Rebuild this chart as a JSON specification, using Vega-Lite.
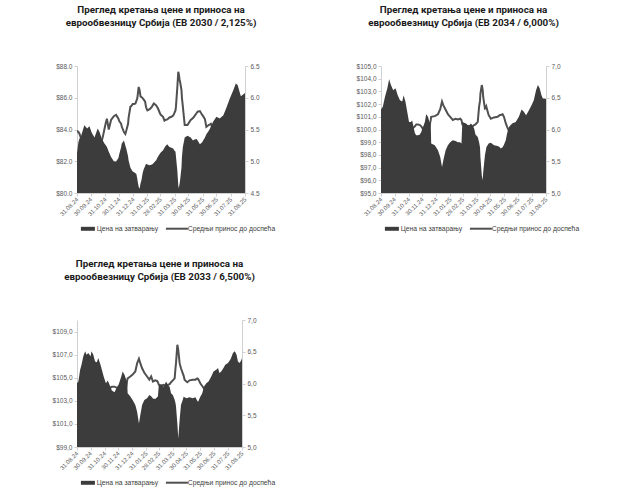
{
"$schema": "https://vega.github.io/schema/vega-lite/v6.json",
"padding": {"left": 52, "top": 5, "right": 5, "bottom": 0},
"background": "white",
"config": {
  "view": {"stroke": null},
  "font": "Liberation Sans",
  "axis": {"grid": false, "labelFontSize": 6.5, "labelColor": "#595959", "domainColor": "#d0d0d0", "tickColor": "#d0d0d0", "tickSize": 3, "labelPadding": 2, "title": null},
  "legend": {"labelFontSize": 6.8, "labelColor": "#404040", "title": null, "orient": "bottom", "direction": "horizontal", "offset": 8, "columnPadding": 2, "labelOffset": 13, "symbolType": "M-1,0H1", "symbolSize": 484},
  "title": {"font": "Roboto", "fontSize": 9.8, "fontWeight": "bold", "color": "#1a1a1a", "lineHeight": 13, "anchor": "middle", "offset": 35}
},
"datasets": {
"b2030": [
{"d":"2024-08-31","p":82.5,"y":5.48},{"d":"2024-09-03","p":83.2,"y":5.46},{"d":"2024-09-05","p":83.4,"y":5.44},{"d":"2024-09-09","p":83.6,"y":5.36},{"d":"2024-09-16","p":84.27,"y":5.22},{"d":"2024-09-22","p":84.06,"y":5.25},{"d":"2024-09-27","p":84.2,"y":5.22},{"d":"2024-10-02","p":83.8,"y":5.28},{"d":"2024-10-08","p":83.5,"y":5.3},{"d":"2024-10-15","p":84.06,"y":5.25},{"d":"2024-10-19","p":83.85,"y":5.27},{"d":"2024-10-24","p":83.4,"y":5.33},{"d":"2024-10-26","p":83.3,"y":5.38},{"d":"2024-10-30","p":83.1,"y":5.52},{"d":"2024-11-02","p":83.0,"y":5.62},{"d":"2024-11-04","p":82.9,"y":5.67},{"d":"2024-11-08","p":82.6,"y":5.5},{"d":"2024-11-13","p":82.27,"y":5.65},{"d":"2024-11-19","p":82.0,"y":5.71},{"d":"2024-11-24","p":81.98,"y":5.73},{"d":"2024-11-29","p":82.2,"y":5.67},{"d":"2024-12-01","p":82.48,"y":5.63},{"d":"2024-12-05","p":82.9,"y":5.59},{"d":"2024-12-06","p":83.1,"y":5.55},{"d":"2024-12-11","p":83.3,"y":5.46},{"d":"2024-12-14","p":83.0,"y":5.43},{"d":"2024-12-16","p":82.8,"y":5.48},{"d":"2024-12-20","p":82.3,"y":5.59},{"d":"2024-12-21","p":82.06,"y":5.68},{"d":"2024-12-25","p":81.6,"y":5.86},{"d":"2024-12-27","p":81.5,"y":5.87},{"d":"2024-12-30","p":81.35,"y":5.9},{"d":"2025-01-02","p":81.3,"y":5.9},{"d":"2025-01-05","p":81.25,"y":5.91},{"d":"2025-01-07","p":81.2,"y":5.95},{"d":"2025-01-09","p":80.9,"y":5.99},{"d":"2025-01-10","p":80.7,"y":6.05},{"d":"2025-01-12","p":80.4,"y":6.17},{"d":"2025-01-14","p":80.27,"y":6.12},{"d":"2025-01-16","p":80.6,"y":6.02},{"d":"2025-01-18","p":80.8,"y":6.01},{"d":"2025-01-21","p":81.3,"y":5.99},{"d":"2025-01-23","p":81.5,"y":5.97},{"d":"2025-01-26","p":81.7,"y":5.94},{"d":"2025-01-28","p":81.85,"y":5.85},{"d":"2025-01-31","p":81.8,"y":5.8},{"d":"2025-02-05","p":81.75,"y":5.82},{"d":"2025-02-10","p":81.8,"y":5.86},{"d":"2025-02-12","p":81.85,"y":5.89},{"d":"2025-02-14","p":81.9,"y":5.91},{"d":"2025-02-19","p":82.06,"y":5.88},{"d":"2025-02-23","p":82.3,"y":5.83},{"d":"2025-02-27","p":82.48,"y":5.76},{"d":"2025-03-01","p":82.55,"y":5.73},{"d":"2025-03-06","p":82.7,"y":5.7},{"d":"2025-03-09","p":82.85,"y":5.64},{"d":"2025-03-11","p":82.95,"y":5.65},{"d":"2025-03-15","p":83.07,"y":5.66},{"d":"2025-03-17","p":83.0,"y":5.67},{"d":"2025-03-20","p":82.9,"y":5.69},{"d":"2025-03-24","p":82.85,"y":5.7},{"d":"2025-03-28","p":82.8,"y":5.72},{"d":"2025-03-30","p":82.7,"y":5.75},{"d":"2025-04-02","p":82.6,"y":5.8},{"d":"2025-04-03","p":82.3,"y":5.86},{"d":"2025-04-06","p":81.4,"y":6.17},{"d":"2025-04-08","p":80.5,"y":6.41},{"d":"2025-04-09","p":80.3,"y":6.38},{"d":"2025-04-11","p":80.6,"y":6.28},{"d":"2025-04-12","p":80.8,"y":6.25},{"d":"2025-04-15","p":81.6,"y":6.12},{"d":"2025-04-16","p":82.27,"y":6.0},{"d":"2025-04-18","p":82.9,"y":5.86},{"d":"2025-04-22","p":83.5,"y":5.57},{"d":"2025-04-28","p":83.6,"y":5.57},{"d":"2025-05-05","p":83.5,"y":5.65},{"d":"2025-05-10","p":83.3,"y":5.68},{"d":"2025-05-12","p":83.35,"y":5.7},{"d":"2025-05-18","p":83.4,"y":5.76},{"d":"2025-05-20","p":83.3,"y":5.78},{"d":"2025-05-25","p":83.07,"y":5.79},{"d":"2025-05-30","p":83.2,"y":5.73},{"d":"2025-06-01","p":83.3,"y":5.71},{"d":"2025-06-05","p":83.5,"y":5.66},{"d":"2025-06-08","p":83.7,"y":5.54},{"d":"2025-06-13","p":83.9,"y":5.57},{"d":"2025-06-16","p":84.06,"y":5.58},{"d":"2025-06-18","p":84.2,"y":5.59},{"d":"2025-06-23","p":84.5,"y":5.5},{"d":"2025-06-30","p":84.8,"y":5.35},{"d":"2025-07-07","p":84.7,"y":5.3},{"d":"2025-07-15","p":84.9,"y":5.25},{"d":"2025-07-22","p":85.4,"y":5.15},{"d":"2025-07-29","p":85.96,"y":5.05},{"d":"2025-08-06","p":86.5,"y":4.95},{"d":"2025-08-11","p":86.9,"y":4.88},{"d":"2025-08-15","p":86.8,"y":4.9},{"d":"2025-08-19","p":86.4,"y":4.96},{"d":"2025-08-22","p":86.1,"y":5.0},{"d":"2025-08-27","p":86.2,"y":4.99},{"d":"2025-08-31","p":86.3,"y":4.97}
],
"b2034": [
{"d":"2024-08-31","p":101.58,"y":5.86},{"d":"2024-09-04","p":101.8,"y":5.83},{"d":"2024-09-09","p":102.6,"y":5.72},{"d":"2024-09-14","p":103.24,"y":5.63},{"d":"2024-09-18","p":103.95,"y":5.53},{"d":"2024-09-22","p":103.5,"y":5.6},{"d":"2024-09-27","p":103.1,"y":5.65},{"d":"2024-10-02","p":103.24,"y":5.63},{"d":"2024-10-07","p":102.7,"y":5.71},{"d":"2024-10-12","p":102.3,"y":5.76},{"d":"2024-10-17","p":102.2,"y":5.78},{"d":"2024-10-20","p":102.7,"y":5.71},{"d":"2024-10-24","p":102.2,"y":5.78},{"d":"2024-10-28","p":101.4,"y":5.89},{"d":"2024-11-01","p":100.6,"y":6.0},{"d":"2024-11-05","p":100.6,"y":6.0},{"d":"2024-11-08","p":100.7,"y":6.01},{"d":"2024-11-11","p":100.2,"y":6.03},{"d":"2024-11-14","p":99.7,"y":6.05},{"d":"2024-11-17","p":99.55,"y":6.08},{"d":"2024-11-21","p":99.55,"y":6.08},{"d":"2024-11-25","p":99.6,"y":6.07},{"d":"2024-11-28","p":99.8,"y":6.05},{"d":"2024-11-30","p":100.0,"y":6.03},{"d":"2024-12-02","p":100.2,"y":6.0},{"d":"2024-12-06","p":100.6,"y":5.98},{"d":"2024-12-09","p":101.2,"y":5.95},{"d":"2024-12-13","p":101.0,"y":6.0},{"d":"2024-12-16","p":100.6,"y":6.05},{"d":"2024-12-19","p":100.5,"y":6.15},{"d":"2024-12-20","p":98.9,"y":6.2},{"d":"2024-12-28","p":98.76,"y":6.21},{"d":"2025-01-04","p":98.37,"y":6.24},{"d":"2025-01-09","p":97.84,"y":6.32},{"d":"2025-01-13","p":97.05,"y":6.44},{"d":"2025-01-16","p":97.6,"y":6.38},{"d":"2025-01-21","p":98.37,"y":6.31},{"d":"2025-01-26","p":98.76,"y":6.24},{"d":"2025-01-31","p":99.0,"y":6.2},{"d":"2025-02-06","p":99.16,"y":6.15},{"d":"2025-02-12","p":99.1,"y":6.17},{"d":"2025-02-17","p":99.0,"y":6.16},{"d":"2025-02-22","p":99.0,"y":6.17},{"d":"2025-02-25","p":98.9,"y":6.15},{"d":"2025-02-27","p":100.6,"y":6.08},{"d":"2025-03-07","p":100.47,"y":6.06},{"d":"2025-03-13","p":100.3,"y":6.05},{"d":"2025-03-18","p":100.47,"y":6.05},{"d":"2025-03-22","p":100.3,"y":6.05},{"d":"2025-03-25","p":100.08,"y":6.07},{"d":"2025-03-28","p":99.6,"y":6.08},{"d":"2025-04-02","p":99.4,"y":6.12},{"d":"2025-04-05","p":99.0,"y":6.36},{"d":"2025-04-07","p":98.6,"y":6.45},{"d":"2025-04-08","p":97.8,"y":6.57},{"d":"2025-04-11","p":96.4,"y":6.7},{"d":"2025-04-13","p":96.0,"y":6.62},{"d":"2025-04-14","p":96.6,"y":6.52},{"d":"2025-04-16","p":97.3,"y":6.42},{"d":"2025-04-18","p":98.0,"y":6.33},{"d":"2025-04-20","p":98.37,"y":6.34},{"d":"2025-04-21","p":98.6,"y":6.36},{"d":"2025-04-26","p":98.9,"y":6.23},{"d":"2025-05-01","p":98.95,"y":6.17},{"d":"2025-05-08","p":98.76,"y":6.19},{"d":"2025-05-16","p":98.7,"y":6.2},{"d":"2025-05-21","p":98.6,"y":6.23},{"d":"2025-05-23","p":98.5,"y":6.23},{"d":"2025-05-27","p":98.6,"y":6.24},{"d":"2025-05-30","p":98.8,"y":6.2},{"d":"2025-06-03","p":99.16,"y":6.1},{"d":"2025-06-06","p":99.7,"y":6.04},{"d":"2025-06-10","p":100.2,"y":5.98},{"d":"2025-06-17","p":100.47,"y":5.94},{"d":"2025-06-25","p":100.6,"y":5.92},{"d":"2025-07-02","p":101.0,"y":5.87},{"d":"2025-07-08","p":101.58,"y":5.79},{"d":"2025-07-13","p":101.4,"y":5.82},{"d":"2025-07-18","p":101.13,"y":5.85},{"d":"2025-07-24","p":101.5,"y":5.8},{"d":"2025-07-30","p":101.9,"y":5.75},{"d":"2025-08-04","p":102.3,"y":5.69},{"d":"2025-08-09","p":103.1,"y":5.58},{"d":"2025-08-13","p":103.5,"y":5.53},{"d":"2025-08-17","p":103.24,"y":5.56},{"d":"2025-08-21","p":102.7,"y":5.63},{"d":"2025-08-24","p":102.45,"y":5.67},{"d":"2025-08-28","p":102.45,"y":5.67},{"d":"2025-08-31","p":102.4,"y":5.68}
],
"b2033": [
{"d":"2024-08-31","p":104.53,"y":5.9},{"d":"2024-09-03","p":104.67,"y":5.88},{"d":"2024-09-07","p":105.7,"y":5.73},{"d":"2024-09-10","p":106.13,"y":5.67},{"d":"2024-09-14","p":106.86,"y":5.56},{"d":"2024-09-18","p":107.3,"y":5.49},{"d":"2024-09-21","p":107.0,"y":5.53},{"d":"2024-09-25","p":107.15,"y":5.51},{"d":"2024-09-30","p":106.86,"y":5.56},{"d":"2024-10-02","p":107.3,"y":5.49},{"d":"2024-10-06","p":107.0,"y":5.53},{"d":"2024-10-10","p":106.4,"y":5.62},{"d":"2024-10-14","p":106.33,"y":5.63},{"d":"2024-10-17","p":106.7,"y":5.58},{"d":"2024-10-22","p":106.13,"y":5.67},{"d":"2024-10-25","p":105.7,"y":5.73},{"d":"2024-10-29","p":105.1,"y":5.82},{"d":"2024-11-03","p":104.53,"y":5.9},{"d":"2024-11-07","p":104.76,"y":5.87},{"d":"2024-11-11","p":104.4,"y":5.92},{"d":"2024-11-14","p":104.1,"y":5.94},{"d":"2024-11-16","p":103.9,"y":5.95},{"d":"2024-11-22","p":103.75,"y":5.95},{"d":"2024-11-28","p":104.24,"y":5.93},{"d":"2024-12-01","p":104.4,"y":5.9},{"d":"2024-12-07","p":105.1,"y":5.82},{"d":"2024-12-10","p":105.55,"y":5.76},{"d":"2024-12-14","p":105.26,"y":5.8},{"d":"2024-12-18","p":104.8,"y":5.95},{"d":"2024-12-20","p":104.6,"y":6.05},{"d":"2024-12-21","p":103.66,"y":6.08},{"d":"2024-12-27","p":103.37,"y":6.11},{"d":"2025-01-01","p":103.07,"y":6.14},{"d":"2025-01-07","p":102.64,"y":6.19},{"d":"2025-01-11","p":102.06,"y":6.32},{"d":"2025-01-15","p":101.04,"y":6.39},{"d":"2025-01-18","p":101.76,"y":6.32},{"d":"2025-01-22","p":102.64,"y":6.24},{"d":"2025-01-27","p":103.07,"y":6.17},{"d":"2025-02-02","p":103.22,"y":6.11},{"d":"2025-02-07","p":103.5,"y":6.06},{"d":"2025-02-11","p":103.4,"y":6.11},{"d":"2025-02-15","p":103.2,"y":6.03},{"d":"2025-02-20","p":103.15,"y":6.05},{"d":"2025-02-24","p":103.3,"y":6.04},{"d":"2025-02-26","p":103.37,"y":6.02},{"d":"2025-02-28","p":104.4,"y":5.98},{"d":"2025-03-05","p":104.4,"y":5.97},{"d":"2025-03-11","p":104.24,"y":5.98},{"d":"2025-03-16","p":104.67,"y":5.95},{"d":"2025-03-20","p":104.4,"y":5.98},{"d":"2025-03-24","p":104.2,"y":5.99},{"d":"2025-03-27","p":103.66,"y":6.02},{"d":"2025-03-31","p":103.5,"y":6.05},{"d":"2025-04-04","p":103.1,"y":6.08},{"d":"2025-04-06","p":102.78,"y":6.25},{"d":"2025-04-07","p":102.5,"y":6.32},{"d":"2025-04-10","p":101.04,"y":6.61},{"d":"2025-04-12","p":99.73,"y":6.53},{"d":"2025-04-15","p":101.33,"y":6.32},{"d":"2025-04-18","p":102.64,"y":6.24},{"d":"2025-04-22","p":103.1,"y":6.16},{"d":"2025-04-24","p":103.37,"y":6.12},{"d":"2025-04-26","p":103.3,"y":6.06},{"d":"2025-04-30","p":103.22,"y":6.03},{"d":"2025-05-02","p":103.25,"y":6.02},{"d":"2025-05-07","p":103.3,"y":6.05},{"d":"2025-05-14","p":103.22,"y":6.06},{"d":"2025-05-20","p":103.3,"y":6.06},{"d":"2025-05-24","p":103.0,"y":6.08},{"d":"2025-05-26","p":102.93,"y":6.07},{"d":"2025-05-29","p":103.2,"y":6.03},{"d":"2025-05-31","p":103.37,"y":6.0},{"d":"2025-06-02","p":103.5,"y":5.98},{"d":"2025-06-04","p":103.66,"y":5.96},{"d":"2025-06-08","p":104.24,"y":5.92},{"d":"2025-06-13","p":104.53,"y":5.88},{"d":"2025-06-18","p":104.67,"y":5.86},{"d":"2025-06-24","p":105.1,"y":5.8},{"d":"2025-06-29","p":105.55,"y":5.73},{"d":"2025-07-05","p":105.7,"y":5.71},{"d":"2025-07-09","p":105.84,"y":5.69},{"d":"2025-07-12","p":105.4,"y":5.76},{"d":"2025-07-16","p":105.55,"y":5.73},{"d":"2025-07-21","p":105.84,"y":5.69},{"d":"2025-07-25","p":106.13,"y":5.65},{"d":"2025-07-31","p":106.27,"y":5.63},{"d":"2025-08-06","p":106.63,"y":5.58},{"d":"2025-08-11","p":107.15,"y":5.5},{"d":"2025-08-15","p":107.3,"y":5.48},{"d":"2025-08-19","p":107.0,"y":5.52},{"d":"2025-08-22","p":106.4,"y":5.61},{"d":"2025-08-26","p":106.27,"y":5.63},{"d":"2025-08-30","p":106.57,"y":5.59},{"d":"2025-08-31","p":106.7,"y":5.57}
]
},
"resolve": {"scale": {"color": "independent"}, "legend": {"color": "independent"}},
"spacing": 26,
"vconcat": [
{
"resolve": {"scale": {"color": "independent"}, "legend": {"color": "independent"}},
"spacing": 80,
"hconcat": [
{
"title": {"text": ["Преглед кретања цене и приноса на", "еврообвезницу Србија (ЕВ 2030 / 2,125%)"]},
"width": 168, "height": 127,
"data": {"name": "b2030"},
"encoding": {
  "x": {"field": "d", "type": "temporal", "scale": {"type": "utc", "domain": [{"year": 2024, "month": 8, "date": 31, "utc": true}, {"year": 2025, "month": 8, "date": 31, "utc": true}]}, "axis": {"values": [{"year":2024,"month":8,"date":31,"utc":true},{"year":2024,"month":9,"date":30,"utc":true},{"year":2024,"month":10,"date":31,"utc":true},{"year":2024,"month":11,"date":30,"utc":true},{"year":2024,"month":12,"date":31,"utc":true},{"year":2025,"month":1,"date":31,"utc":true},{"year":2025,"month":2,"date":28,"utc":true},{"year":2025,"month":3,"date":31,"utc":true},{"year":2025,"month":4,"date":30,"utc":true},{"year":2025,"month":5,"date":31,"utc":true},{"year":2025,"month":6,"date":30,"utc":true},{"year":2025,"month":7,"date":31,"utc":true},{"year":2025,"month":8,"date":31,"utc":true}], "format": "%d.%m.%y", "labelAngle": -45, "labelAlign": "right", "labelBaseline": "middle", "labelOverlap": false, "labelFontSize": 6}}
},
"layer": [
{"mark": {"type": "line", "strokeWidth": 2, "clip": true}, "encoding": {"y": {"field": "y", "type": "quantitative", "scale": {"domain": [4.5, 6.5], "zero": false}, "axis": {"orient": "right", "values": [4.5, 5.0, 5.5, 6.0, 6.5], "format": ".1f"}}, "color": {"datum": "Средњи принос до доспећа", "scale": {"domain": ["Цена на затварању", "Средњи принос до доспећа"], "range": ["#3c3c3c", "#505050"]}, "legend": {"encode": {"symbols": {"update": {"shape": {"signal": "datum.index === 0 ? 'M0.045,-0.18H1.318V0.18H0.045Z' : 'M-0.5,0H1.5'"}, "fill": {"signal": "datum.index === 0 ? '#3c3c3c' : 'transparent'"}, "stroke": {"signal": "datum.index === 0 ? '#3c3c3c' : '#505050'"}, "strokeWidth": {"signal": "datum.index === 0 ? 0 : 2"}, "opacity": {"value": 1}}}}}}}},
{"mark": {"type": "area", "clip": true}, "encoding": {"y": {"field": "p", "type": "quantitative", "stack": null, "scale": {"domain": [80, 88], "zero": false}, "axis": {"orient": "left", "values": [80, 82, 84, 86, 88], "format": "$.1f"}}, "color": {"datum": "Цена на затварању", "legend": {"encode": {"symbols": {"update": {"shape": {"signal": "datum.index === 0 ? 'M0.045,-0.18H1.318V0.18H0.045Z' : 'M-0.5,0H1.5'"}, "fill": {"signal": "datum.index === 0 ? '#3c3c3c' : 'transparent'"}, "stroke": {"signal": "datum.index === 0 ? '#3c3c3c' : '#505050'"}, "strokeWidth": {"signal": "datum.index === 0 ? 0 : 2"}, "opacity": {"value": 1}}}}}}}}
],
"resolve": {"scale": {"y": "independent"}}
},
{
"title": {"text": ["Преглед кретања цене и приноса на", "еврообвезницу Србија (ЕВ 2034 / 6,000%)"]},
"width": 165, "height": 127,
"data": {"name": "b2034"},
"encoding": {
  "x": {"field": "d", "type": "temporal", "scale": {"type": "utc", "domain": [{"year": 2024, "month": 8, "date": 31, "utc": true}, {"year": 2025, "month": 8, "date": 31, "utc": true}]}, "axis": {"values": [{"year":2024,"month":8,"date":31,"utc":true},{"year":2024,"month":9,"date":30,"utc":true},{"year":2024,"month":10,"date":31,"utc":true},{"year":2024,"month":11,"date":30,"utc":true},{"year":2024,"month":12,"date":31,"utc":true},{"year":2025,"month":1,"date":31,"utc":true},{"year":2025,"month":2,"date":28,"utc":true},{"year":2025,"month":3,"date":31,"utc":true},{"year":2025,"month":4,"date":30,"utc":true},{"year":2025,"month":5,"date":31,"utc":true},{"year":2025,"month":6,"date":30,"utc":true},{"year":2025,"month":7,"date":31,"utc":true},{"year":2025,"month":8,"date":31,"utc":true}], "format": "%d.%m.%y", "labelAngle": -45, "labelAlign": "right", "labelBaseline": "middle", "labelOverlap": false, "labelFontSize": 6}}
},
"layer": [
{"mark": {"type": "line", "strokeWidth": 2, "clip": true}, "encoding": {"y": {"field": "y", "type": "quantitative", "scale": {"domain": [5, 7], "zero": false}, "axis": {"orient": "right", "values": [5.0, 5.5, 6.0, 6.5, 7.0], "labelExpr": "replace(format(datum.value, '.1f'), '.', ',')"}}, "color": {"datum": "Средњи принос до доспећа", "scale": {"domain": ["Цена на затварању", "Средњи принос до доспећа"], "range": ["#3c3c3c", "#505050"]}, "legend": {"encode": {"symbols": {"update": {"shape": {"signal": "datum.index === 0 ? 'M0.045,-0.18H1.318V0.18H0.045Z' : 'M-0.5,0H1.5'"}, "fill": {"signal": "datum.index === 0 ? '#3c3c3c' : 'transparent'"}, "stroke": {"signal": "datum.index === 0 ? '#3c3c3c' : '#505050'"}, "strokeWidth": {"signal": "datum.index === 0 ? 0 : 2"}, "opacity": {"value": 1}}}}}}}},
{"mark": {"type": "area", "clip": true}, "encoding": {"y": {"field": "p", "type": "quantitative", "stack": null, "scale": {"domain": [95, 105], "zero": false}, "axis": {"orient": "left", "values": [95, 96, 97, 98, 99, 100, 101, 102, 103, 104, 105], "labelExpr": "'$' + replace(format(datum.value, '.1f'), '.', ',')"}}, "color": {"datum": "Цена на затварању", "legend": {"encode": {"symbols": {"update": {"shape": {"signal": "datum.index === 0 ? 'M0.045,-0.18H1.318V0.18H0.045Z' : 'M-0.5,0H1.5'"}, "fill": {"signal": "datum.index === 0 ? '#3c3c3c' : 'transparent'"}, "stroke": {"signal": "datum.index === 0 ? '#3c3c3c' : '#505050'"}, "strokeWidth": {"signal": "datum.index === 0 ? 0 : 2"}, "opacity": {"value": 1}}}}}}}}
],
"resolve": {"scale": {"y": "independent"}}
}
]
},
{
"title": {"text": ["Преглед кретања цене и приноса на", "еврообвезницу Србија (ЕВ 2033 / 6,500%)"]},
"width": 165, "height": 127,
"data": {"name": "b2033"},
"encoding": {
  "x": {"field": "d", "type": "temporal", "scale": {"type": "utc", "domain": [{"year": 2024, "month": 8, "date": 31, "utc": true}, {"year": 2025, "month": 8, "date": 31, "utc": true}]}, "axis": {"values": [{"year":2024,"month":8,"date":31,"utc":true},{"year":2024,"month":9,"date":30,"utc":true},{"year":2024,"month":10,"date":31,"utc":true},{"year":2024,"month":11,"date":30,"utc":true},{"year":2024,"month":12,"date":31,"utc":true},{"year":2025,"month":1,"date":31,"utc":true},{"year":2025,"month":2,"date":28,"utc":true},{"year":2025,"month":3,"date":31,"utc":true},{"year":2025,"month":4,"date":30,"utc":true},{"year":2025,"month":5,"date":31,"utc":true},{"year":2025,"month":6,"date":30,"utc":true},{"year":2025,"month":7,"date":31,"utc":true},{"year":2025,"month":8,"date":31,"utc":true}], "format": "%d.%m.%y", "labelAngle": -45, "labelAlign": "right", "labelBaseline": "middle", "labelOverlap": false, "labelFontSize": 6}}
},
"layer": [
{"mark": {"type": "line", "strokeWidth": 2, "clip": true}, "encoding": {"y": {"field": "y", "type": "quantitative", "scale": {"domain": [5, 7], "zero": false}, "axis": {"orient": "right", "values": [5.0, 5.5, 6.0, 6.5, 7.0], "labelExpr": "replace(format(datum.value, '.1f'), '.', ',')"}}, "color": {"datum": "Средњи принос до доспећа", "scale": {"domain": ["Цена на затварању", "Средњи принос до доспећа"], "range": ["#3c3c3c", "#505050"]}, "legend": {"encode": {"symbols": {"update": {"shape": {"signal": "datum.index === 0 ? 'M0.045,-0.18H1.318V0.18H0.045Z' : 'M-0.5,0H1.5'"}, "fill": {"signal": "datum.index === 0 ? '#3c3c3c' : 'transparent'"}, "stroke": {"signal": "datum.index === 0 ? '#3c3c3c' : '#505050'"}, "strokeWidth": {"signal": "datum.index === 0 ? 0 : 2"}, "opacity": {"value": 1}}}}}}}},
{"mark": {"type": "area", "clip": true}, "encoding": {"y": {"field": "p", "type": "quantitative", "stack": null, "scale": {"domain": [99, 110], "zero": false}, "axis": {"orient": "left", "values": [99, 101, 103, 105, 107, 109], "labelExpr": "'$' + replace(format(datum.value, '.1f'), '.', ',')"}}, "color": {"datum": "Цена на затварању", "legend": {"encode": {"symbols": {"update": {"shape": {"signal": "datum.index === 0 ? 'M0.045,-0.18H1.318V0.18H0.045Z' : 'M-0.5,0H1.5'"}, "fill": {"signal": "datum.index === 0 ? '#3c3c3c' : 'transparent'"}, "stroke": {"signal": "datum.index === 0 ? '#3c3c3c' : '#505050'"}, "strokeWidth": {"signal": "datum.index === 0 ? 0 : 2"}, "opacity": {"value": 1}}}}}}}}
],
"resolve": {"scale": {"y": "independent"}}
}
]
}
